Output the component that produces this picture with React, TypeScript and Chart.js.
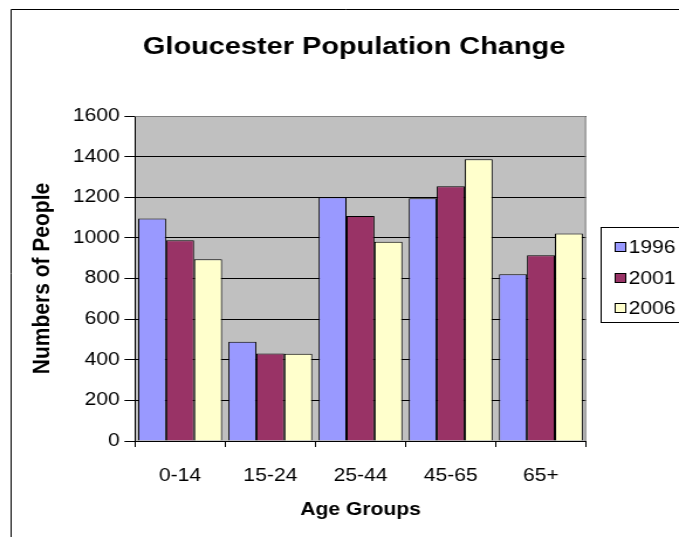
import React, { useEffect, useRef } from "react";
import { Chart, registerables } from "chart.js";

Chart.register(...registerables);

// Age bands on the category axis
const ageGroups = ["0-14", "15-24", "25-44", "45-65", "65+"];

// Census years shown as series
const years = ["1996", "2001", "2006"];

// Population counts per age band
const people1996 = [1095, 489, 1200, 1195, 821];
const people2001 = [988, 431, 1108, 1254, 914];
const people2006 = [895, 430, 981, 1387, 1021];

// Value axis range and step
const yMin = 0;
const yMax = 1600;
const yStep = 200;

const seriesColors = ["#9999FF", "#993366", "#FFFFCC"];

const chartTitle = "Gloucester Population Change";
const xTitle = "Age Groups";
const yTitle = "Numbers of People";

const FONT = "'Liberation Sans', Arial, Helvetica, sans-serif";

// The drawing surface is laid out narrower and widened by CSS
const CANVAS_W = 580;
const CANVAS_H = 537;
const DISPLAY_W = 679;

const chromePlugin = {
  id: "chrome",
  beforeDraw(chart: any) {
    const { ctx, chartArea: a } = chart;
    ctx.save();
    ctx.fillStyle = "#FFFFFF";
    ctx.fillRect(0, 0, chart.width, chart.height);
    // plot background
    ctx.fillStyle = "#C0C0C0";
    ctx.fillRect(a.left, a.top, a.right - a.left, a.bottom - a.top);
    // outer chart frame (left and top edges visible)
    ctx.strokeStyle = "#000000";
    ctx.lineWidth = 1;
    ctx.beginPath();
    ctx.moveTo(9.5, chart.height + 5);
    ctx.lineTo(9.5, 9.5);
    ctx.lineTo(chart.width + 5, 9.5);
    ctx.stroke();
    ctx.restore();
  },
  beforeDatasetsDraw(chart: any) {
    const { ctx, chartArea: a } = chart;
    ctx.save();
    ctx.strokeStyle = "#808080";
    ctx.lineWidth = 1;
    ctx.beginPath();
    ctx.moveTo(a.left, a.top + 0.5);
    ctx.lineTo(a.right - 0.5, a.top + 0.5);
    ctx.lineTo(a.right - 0.5, a.bottom);
    ctx.stroke();
    ctx.restore();
  },
  afterDraw(chart: any) {
    const { ctx } = chart;
    ctx.save();
    // chart title
    ctx.fillStyle = "#000000";
    ctx.font = `bold 24.7px ${FONT}`;
    ctx.textAlign = "center";
    ctx.textBaseline = "middle";
    ctx.fillText(chartTitle, 302.5, 47);

    // legend box
    const lx = 513.5;
    const ly = 227.5;
    ctx.strokeStyle = "#000000";
    ctx.lineWidth = 1;
    ctx.strokeRect(lx, ly, 120, 95);
    const rowY = [247, 278, 308];
    ctx.font = `18px ${FONT}`;
    ctx.textAlign = "left";
    years.forEach((label, i) => {
      const y = rowY[i];
      ctx.fillStyle = seriesColors[i];
      ctx.fillRect(525.5, y - 4.5, 9, 9);
      ctx.strokeStyle = "#000000";
      ctx.strokeRect(525.5, y - 4.5, 9, 9);
      ctx.fillStyle = "#000000";
      ctx.fillText(label, 537, y + 1);
    });
    ctx.restore();
  },
};

export default function App() {
  const canvasRef = useRef<HTMLCanvasElement | null>(null);

  useEffect(() => {
    document.body.style.margin = "0";
    const canvas = canvasRef.current;
    if (!canvas) return;
    const series = [people1996, people2001, people2006];
    const chart = new Chart(canvas, {
      type: "bar",
      data: {
        labels: ageGroups,
        datasets: years.map((y, i) => ({
          label: y,
          data: series[i],
          backgroundColor: seriesColors[i],
          borderColor: "#000000",
          borderWidth: 1,
          categoryPercentage: 0.93,
          barPercentage: 1.0,
        })),
      },
      plugins: [chromePlugin],
      options: {
        responsive: false,
        animation: false,
        events: [],
        devicePixelRatio: 1,
        layout: { padding: { left: 0, right: 79.4, top: 116, bottom: 0 } },
        plugins: {
          legend: { display: false },
          title: { display: false },
          tooltip: { enabled: false },
        },
        scales: {
          x: {
            afterFit(s: any) {
              s.height = 96;
            },
            grid: {
              display: true,
              drawOnChartArea: false,
              offset: true,
              tickLength: 6,
              color: "#000000",
            },
            border: { display: true, color: "#000000", width: 1 },
            ticks: {
              color: "#000000",
              font: { family: FONT, size: 18 },
              padding: 18,
              maxRotation: 0,
              autoSkip: false,
            },
            title: {
              display: true,
              text: xTitle,
              color: "#000000",
              font: { family: FONT, size: 18, weight: "bold" },
              padding: { top: 0, bottom: 16 },
            },
          },
          y: {
            min: yMin,
            max: yMax,
            afterFit(s: any) {
              s.width = 115.3;
            },
            grid: { color: "#000000", tickLength: 9 },
            border: { display: true, color: "#000000", width: 1 },
            ticks: {
              stepSize: yStep,
              color: "#000000",
              font: { family: FONT, size: 18 },
              padding: 4,
              callback: (v: any) => String(v),
            },
            title: {
              display: true,
              text: yTitle,
              color: "#000000",
              font: { family: FONT, size: 21, weight: "bold" },
              padding: { top: 24, bottom: 0 },
            },
          },
        },
      },
    });
    return () => chart.destroy();
  }, []);

  return (
    <canvas
      ref={canvasRef}
      width={CANVAS_W}
      height={CANVAS_H}
      style={{ display: "block", width: `${DISPLAY_W}px`, height: `${CANVAS_H}px` }}
    />
  );
}
